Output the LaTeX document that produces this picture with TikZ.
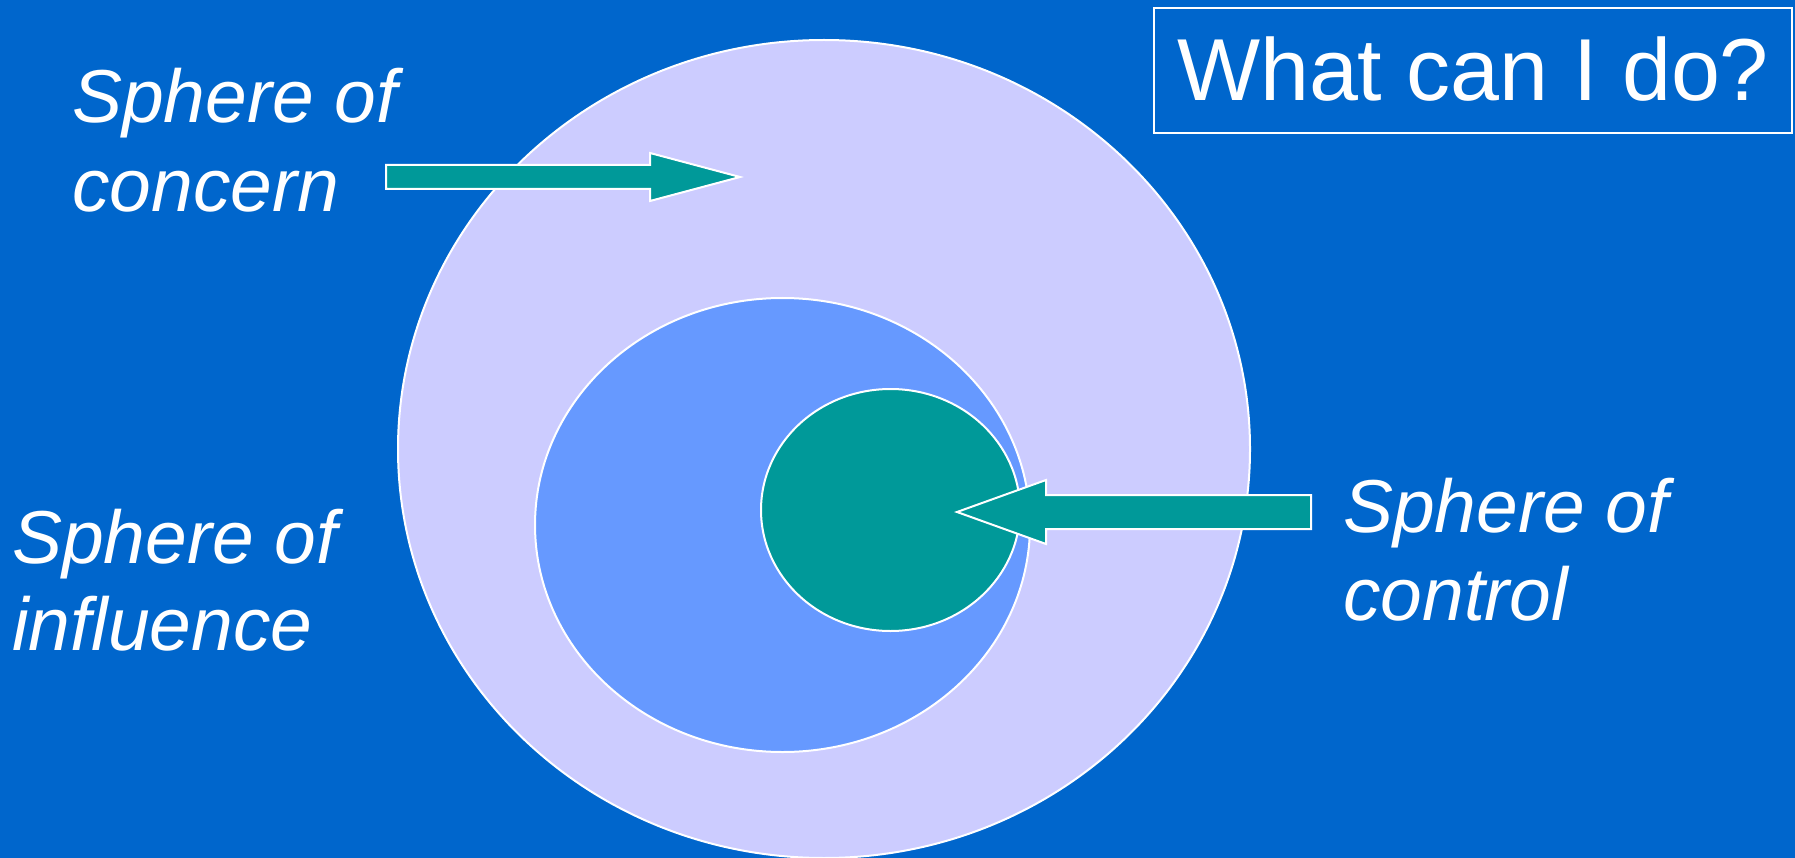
\documentclass[tikz,border=0pt]{standalone}
\usepackage{fontspec}
\setmainfont{Liberation Sans}
\definecolor{bgblue}{HTML}{0066CC}
\definecolor{concernc}{HTML}{CCCCFF}
\definecolor{influencec}{HTML}{6699FF}
\definecolor{tealc}{HTML}{009999}
\begin{document}
\begin{tikzpicture}[x=1pt,y=-1pt,
  sphere/.style={draw=white,line width=2pt},
  blockarrow/.style={fill=tealc,draw=white,line width=2pt,line join=miter},
  lbl/.style={text=white,inner sep=0pt,anchor=base west,font=\fontsize{75}{89}\selectfont\itshape}]
\fill[bgblue] (0,0) rectangle (1795,858);
\useasboundingbox (0,0) rectangle (1795,858);
% spheres
\draw[sphere,fill=concernc] (824,449) ellipse [x radius=426,y radius=409];
\draw[sphere,fill=influencec] (782.5,525) ellipse [x radius=247.5,y radius=227];
\draw[sphere,fill=tealc] (890.5,510) ellipse [x radius=129.5,y radius=121];
% block arrows
\draw[blockarrow] (386,165) -- (650,165) -- (650,153) -- (740,177) -- (650,201) -- (650,189) -- (386,189) -- cycle;
\draw[blockarrow] (1311,495) -- (1046,495) -- (1046,480) -- (957,512) -- (1046,544) -- (1046,529) -- (1311,529) -- cycle;
% labels
\node[lbl] (c1) at (72,123) {Sphere of};
\node[lbl] (c2) at (72,212) {concern};
\node[lbl] (i1) at (12,563) {Sphere of};
\node[lbl] (i2) at (12,650) {influence};
\node[lbl] (k1) at (1343,532) {Sphere of};
\node[lbl] (k2) at (1343,620) {control};
% title box
\draw[white,line width=2pt] (1154,8) rectangle (1792,133);
\node[text=white,inner sep=0pt,anchor=base,font=\fontsize{88}{100}\selectfont] (q) at (1473,101) {What can I do?};
\end{tikzpicture}
\end{document}
